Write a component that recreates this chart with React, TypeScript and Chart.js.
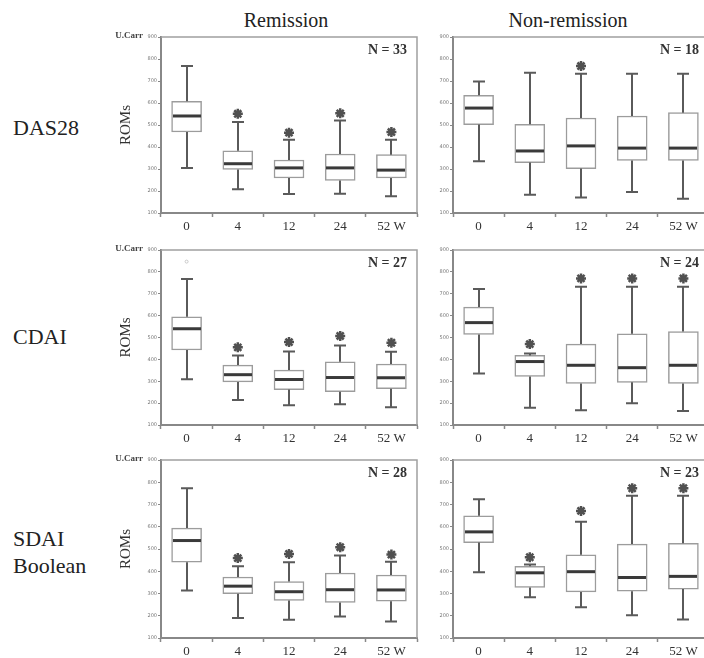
import React, { useEffect, useRef } from 'react';
import { Chart, registerables } from 'chart.js';

Chart.register(...registerables);

// ---------- data ----------
const categories = ['0', '4', '12', '24', '52 W'];
const yAxisMin = 100;
const yAxisMax = 900;
const yAxisStep = 100;

const columnTitles = ['Remission', 'Non-remission'];
const rowTitles = [['DAS28'], ['CDAI'], ['SDAI', 'Boolean']];

// DAS28 - Remission (N = 33)
const das28RemMin = [305, 208, 186, 188, 176];
const das28RemQ1 = [468, 298, 259, 248, 259];
const das28RemMed = [541, 324, 305, 305, 295];
const das28RemQ3 = [608, 383, 341, 368, 365];
const das28RemMax = [768, 514, 433, 521, 433];
const das28RemStar = [null, 551, 465, 553, 468];
const das28RemOut = [null, null, null, null, null];

// DAS28 - Non-remission (N = 18)
const das28NonMin = [335, 183, 171, 195, 165];
const das28NonQ1 = [502, 329, 302, 339, 339];
const das28NonMed = [577, 382, 405, 395, 395];
const das28NonQ3 = [635, 503, 532, 541, 556];
const das28NonMax = [698, 738, 733, 733, 733];
const das28NonStar = [null, null, 768, null, null];
const das28NonOut = [null, null, null, null, null];

// CDAI - Remission (N = 27)
const cdaiRemMin = [309, 214, 190, 195, 181];
const cdaiRemQ1 = [443, 297, 262, 252, 266];
const cdaiRemMed = [540, 330, 308, 317, 316];
const cdaiRemQ3 = [595, 374, 351, 389, 379];
const cdaiRemMax = [767, 418, 436, 464, 435];
const cdaiRemStar = [null, 455, 479, 507, 476];
const cdaiRemOut = [847, null, null, null, null];

// CDAI - Non-remission (N = 24)
const cdaiNonMin = [336, 179, 168, 199, 164];
const cdaiNonQ1 = [514, 322, 290, 295, 290];
const cdaiNonMed = [568, 390, 373, 362, 373];
const cdaiNonQ3 = [639, 418, 470, 517, 527];
const cdaiNonMax = [722, 427, 732, 732, 732];
const cdaiNonStar = [null, 470, 770, 770, 770];
const cdaiNonOut = [null, null, null, null, null];

// SDAI / Boolean - Remission (N = 28)
const sdaiRemMin = [313, 190, 182, 197, 174];
const sdaiRemQ1 = [441, 299, 269, 260, 265];
const sdaiRemMed = [538, 333, 308, 317, 316];
const sdaiRemQ3 = [594, 374, 354, 392, 383];
const sdaiRemMax = [773, 423, 440, 471, 443];
const sdaiRemStar = [null, 459, 478, 508, 475];
const sdaiRemOut = [null, null, null, null, null];

// SDAI / Boolean - Non-remission (N = 23)
const sdaiNonMin = [396, 283, 238, 202, 183];
const sdaiNonQ1 = [529, 327, 307, 310, 320];
const sdaiNonMed = [577, 393, 398, 372, 377];
const sdaiNonQ3 = [649, 422, 474, 522, 526];
const sdaiNonMax = [724, 430, 623, 739, 739];
const sdaiNonStar = [null, 463, 671, 773, 773];
const sdaiNonOut = [null, null, null, null, null];

type Panel = {
  row: number;
  col: number;
  n: string;
  min: number[];
  q1: number[];
  med: number[];
  q3: number[];
  max: number[];
  star: (number | null)[];
  out: (number | null)[];
};

const panels: Panel[] = [
  { row: 0, col: 0, n: 'N = 33', min: das28RemMin, q1: das28RemQ1, med: das28RemMed, q3: das28RemQ3, max: das28RemMax, star: das28RemStar, out: das28RemOut },
  { row: 0, col: 1, n: 'N = 18', min: das28NonMin, q1: das28NonQ1, med: das28NonMed, q3: das28NonQ3, max: das28NonMax, star: das28NonStar, out: das28NonOut },
  { row: 1, col: 0, n: 'N = 27', min: cdaiRemMin, q1: cdaiRemQ1, med: cdaiRemMed, q3: cdaiRemQ3, max: cdaiRemMax, star: cdaiRemStar, out: cdaiRemOut },
  { row: 1, col: 1, n: 'N = 24', min: cdaiNonMin, q1: cdaiNonQ1, med: cdaiNonMed, q3: cdaiNonQ3, max: cdaiNonMax, star: cdaiNonStar, out: cdaiNonOut },
  { row: 2, col: 0, n: 'N = 28', min: sdaiRemMin, q1: sdaiRemQ1, med: sdaiRemMed, q3: sdaiRemQ3, max: sdaiRemMax, star: sdaiRemStar, out: sdaiRemOut },
  { row: 2, col: 1, n: 'N = 23', min: sdaiNonMin, q1: sdaiNonQ1, med: sdaiNonMed, q3: sdaiNonQ3, max: sdaiNonMax, star: sdaiNonStar, out: sdaiNonOut },
];

// ---------- layout ----------
const SERIF = '"Liberation Serif", "Times New Roman", serif';
const ROW_TOP = [37, 250, 460];
const ROW_BOTTOM = [213, 425, 638];
const PAD_TOP = 14;
const X_AXIS_H = 28;
const COL_GEOM = [
  { left: 100, width: 330, axisW: 61, padRight: 13 },
  { left: 420, width: 300, axisW: 33, padRight: 11 },
];

function BoxPanel({ panel }: { panel: Panel }) {
  const ref = useRef<HTMLCanvasElement>(null);
  const g = COL_GEOM[panel.col];
  const top = ROW_TOP[panel.row] - PAD_TOP;
  const height = ROW_BOTTOM[panel.row] - ROW_TOP[panel.row] + PAD_TOP + X_AXIS_H;

  useEffect(() => {
    const canvas = ref.current;
    if (!canvas) return;
    const isLeft = panel.col === 0;

    const boxPlugin = {
      id: 'boxWhiskers',
      afterDatasetsDraw(chart: any) {
        const { ctx, chartArea, scales } = chart;
        const x = scales.x;
        const y = scales.y;
        ctx.save();
        // frame (top & right)
        ctx.strokeStyle = '#a0a0a0';
        ctx.lineWidth = 1.5;
        ctx.beginPath();
        ctx.moveTo(chartArea.left, chartArea.top);
        ctx.lineTo(chartArea.right, chartArea.top);
        ctx.lineTo(chartArea.right, chartArea.bottom);
        ctx.stroke();

        for (let i = 0; i < categories.length; i++) {
          const cx = Math.round(x.getPixelForValue(i));
          const yMin = y.getPixelForValue(panel.min[i]);
          const yQ1 = y.getPixelForValue(panel.q1[i]);
          const yMed = y.getPixelForValue(panel.med[i]);
          const yQ3 = y.getPixelForValue(panel.q3[i]);
          const yMax = y.getPixelForValue(panel.max[i]);
          ctx.strokeStyle = '#5a5a5a';
          ctx.lineWidth = 2;
          ctx.beginPath();
          ctx.moveTo(cx, yQ3);
          ctx.lineTo(cx, yMax);
          ctx.moveTo(cx - 6, yMax);
          ctx.lineTo(cx + 6, yMax);
          ctx.moveTo(cx, yQ1);
          ctx.lineTo(cx, yMin);
          ctx.moveTo(cx - 6, yMin);
          ctx.lineTo(cx + 6, yMin);
          ctx.stroke();
          ctx.strokeStyle = '#3a3a3a';
          ctx.lineWidth = 3;
          ctx.beginPath();
          ctx.moveTo(cx - 14, yMed);
          ctx.lineTo(cx + 14, yMed);
          ctx.stroke();
        }

        // N label
        ctx.fillStyle = '#333';
        ctx.font = `bold 14px ${SERIF}`;
        ctx.textAlign = 'right';
        ctx.textBaseline = 'middle';
        ctx.fillText(panel.n, chartArea.right - 10, chartArea.top + 13);

        if (isLeft) {
          ctx.font = `bold 9px ${SERIF}`;
          ctx.fillStyle = '#444';
          ctx.textAlign = 'right';
          ctx.textBaseline = 'alphabetic';
          ctx.fillText('U.Carr', chartArea.left - 18, chartArea.top + 1);
          ctx.save();
          ctx.translate(chartArea.left - 35, (chartArea.top + chartArea.bottom) / 2);
          ctx.rotate(-Math.PI / 2);
          ctx.font = `15px ${SERIF}`;
          ctx.fillStyle = '#333';
          ctx.textAlign = 'center';
          ctx.textBaseline = 'middle';
          ctx.fillText('ROMs', 0, 0);
          ctx.restore();
        }
        ctx.restore();
      },
    };

    const chart = new Chart(canvas, {
      type: 'bar',
      data: {
        labels: categories,
        datasets: [
          {
            type: 'bar',
            data: panel.q1.map((v, i) => [v, panel.q3[i]]) as any,
            backgroundColor: '#ffffff',
            borderColor: '#9c9c9c',
            borderWidth: 1.5,
            borderSkipped: false,
            barThickness: 30,
            order: 3,
          } as any,
          {
            type: 'line',
            data: panel.star as any,
            showLine: false,
            pointStyle: 'star',
            pointRadius: 5,
            pointBorderWidth: 2.5,
            pointBorderColor: '#505050',
            pointBackgroundColor: '#505050',
            borderColor: '#505050',
            order: 1,
          } as any,
          {
            type: 'line',
            data: panel.out as any,
            showLine: false,
            pointStyle: 'circle',
            pointRadius: 1.5,
            pointBorderWidth: 1,
            pointBorderColor: '#c8c8c8',
            pointBackgroundColor: '#ffffff',
            borderColor: '#c8c8c8',
            order: 2,
          } as any,
        ],
      },
      options: {
        animation: false,
        responsive: false,
        maintainAspectRatio: false,
        devicePixelRatio: 1,
        events: [],
        layout: { padding: { top: PAD_TOP, right: g.padRight, left: 0, bottom: 0 } },
        plugins: { legend: { display: false }, tooltip: { enabled: false } },
        scales: {
          x: {
            type: 'category',
            offset: true,
            grid: { display: true, drawOnChartArea: false, drawTicks: true, tickLength: 4, color: '#888', tickWidth: 1.5 },
            border: { display: true, color: '#888', width: 2 },
            ticks: { font: { family: SERIF, size: 13 }, color: '#333', padding: 2, maxRotation: 0, autoSkip: false },
            afterFit: (s: any) => { s.height = X_AXIS_H; },
          },
          y: {
            type: 'linear',
            min: yAxisMin,
            max: yAxisMax,
            grid: { display: true, drawOnChartArea: false, drawTicks: true, tickLength: 3, color: '#888' },
            border: { display: true, color: '#888', width: 2 },
            ticks: { stepSize: yAxisStep, font: { family: 'DejaVu Sans', size: 5 }, color: '#777', padding: 1 },
            afterFit: (s: any) => { s.width = g.axisW; },
          },
        },
      } as any,
      plugins: [boxPlugin],
    });
    return () => chart.destroy();
  }, []);

  return (
    <canvas
      ref={ref}
      width={g.width}
      height={height}
      style={{ position: 'absolute', left: g.left, top, width: g.width, height, display: 'block' }}
    />
  );
}

function Label({ x, y, size, text, align }: { x: number; y: number; size: number; text: string; align?: string }) {
  const tx = align === 'left' ? '0' : '-50%';
  return (
    <div
      style={{
        position: 'absolute',
        left: x,
        top: y,
        transform: `translate(${tx}, -50%)`,
        fontFamily: SERIF,
        fontSize: size,
        color: '#222',
        whiteSpace: 'nowrap',
        lineHeight: 1,
      }}
    >
      {text}
    </div>
  );
}

export default function App() {
  const rowLabelY = [[128], [337], [539, 566]];
  return (
    <div
      style={{
        position: 'absolute',
        left: 0,
        top: 0,
        width: 704,
        height: 658,
        overflow: 'hidden',
        background: '#ffffff',
      }}
    >
      <Label x={286} y={20} size={20} text={columnTitles[0]} />
      <Label x={568} y={20} size={20} text={columnTitles[1]} />
      {rowTitles.map((lines, r) =>
        lines.map((t, k) => <Label key={`${r}-${k}`} x={13} y={rowLabelY[r][k]} size={22} text={t} align="left" />)
      )}
      {panels.map((p, i) => (
        <BoxPanel key={i} panel={p} />
      ))}
    </div>
  );
}
